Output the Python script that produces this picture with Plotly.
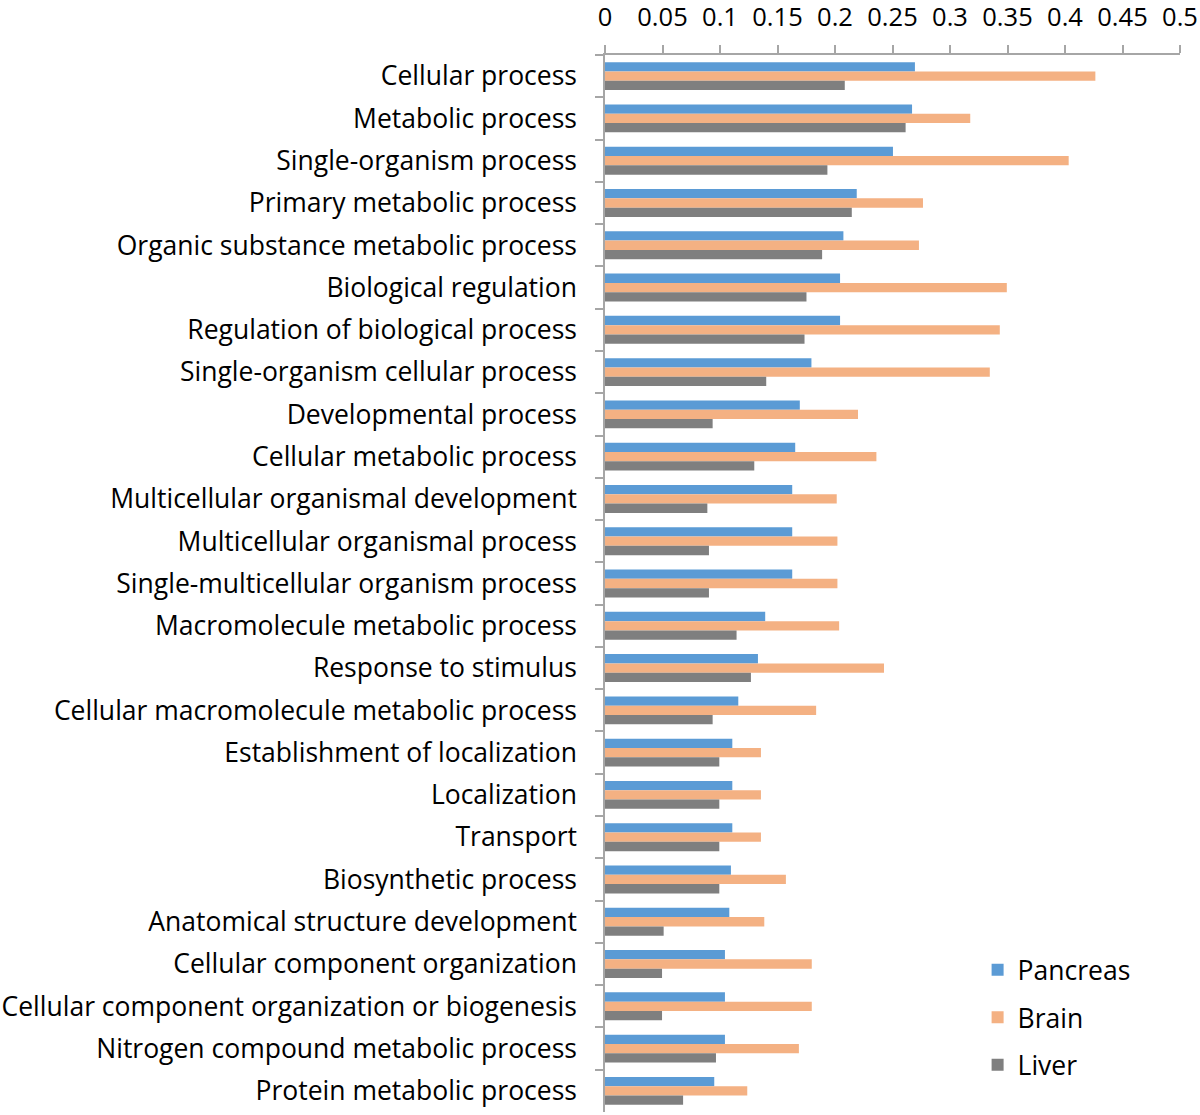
import plotly.graph_objects as go

categories = [
    "Cellular process",
    "Metabolic process",
    "Single-organism process",
    "Primary metabolic process",
    "Organic substance metabolic process",
    "Biological regulation",
    "Regulation of biological process",
    "Single-organism cellular process",
    "Developmental process",
    "Cellular metabolic process",
    "Multicellular organismal development",
    "Multicellular organismal process",
    "Single-multicellular organism process",
    "Macromolecule metabolic process",
    "Response to stimulus",
    "Cellular macromolecule metabolic process",
    "Establishment of localization",
    "Localization",
    "Transport",
    "Biosynthetic process",
    "Anatomical structure development",
    "Cellular component organization",
    "Cellular component organization or biogenesis",
    "Nitrogen compound metabolic process",
    "Protein metabolic process",
]

pancreas = [0.2695, 0.267, 0.2504, 0.2189, 0.2073, 0.2044, 0.2044, 0.1795, 0.1694,
            0.1654, 0.1628, 0.1628, 0.1628, 0.1393, 0.133, 0.1159, 0.1107, 0.1107,
            0.1107, 0.1095, 0.1081, 0.1043, 0.1043, 0.1043, 0.095]
brain = [0.4264, 0.3176, 0.4032, 0.2765, 0.273, 0.3494, 0.3433, 0.3346, 0.22,
         0.236, 0.2015, 0.2021, 0.2021, 0.2036, 0.2426, 0.1836, 0.1356, 0.1356,
         0.1356, 0.1573, 0.1385, 0.1798, 0.1798, 0.1686, 0.1237]
liver = [0.2085, 0.2614, 0.1934, 0.2146, 0.1888, 0.1752, 0.1735, 0.1402, 0.0936,
         0.1298, 0.089, 0.0904, 0.0904, 0.1144, 0.1269, 0.0936, 0.0994, 0.0994,
         0.0994, 0.0994, 0.051, 0.0496, 0.0496, 0.0965, 0.0679]

x_ticks = [0, 0.05, 0.1, 0.15, 0.2, 0.25, 0.3, 0.35, 0.4, 0.45, 0.5]
x_tick_labels = ["0", "0.05", "0.1", "0.15", "0.2", "0.25", "0.3", "0.35", "0.4", "0.45", "0.5"]

series = [("Pancreas", pancreas, "#5B9BD5"),
          ("Brain", brain, "#F4B183"),
          ("Liver", liver, "#7F7F7F")]

FONT = "Open Sans"
FS = 26.5

fig = go.Figure()
for name, vals, color in series:
    fig.add_trace(go.Bar(
        name=name, y=categories, x=vals, orientation="h",
        marker=dict(color=color, line=dict(width=0)),
        legendgroup=name,
    ))

fig.update_layout(
    width=1200, height=1115,
    margin=dict(l=605, r=19.5, t=55, b=3, autoexpand=False),
    paper_bgcolor="white", plot_bgcolor="white",
    barmode="group", bargap=0.34, bargroupgap=0,
    font=dict(family=FONT, size=FS, color="black"),
    legend=dict(x=0.648, y=0.157, xanchor="left", yanchor="top",
                font=dict(family=FONT, size=FS, color="black"),
                traceorder="grouped", tracegroupgap=10,
                bgcolor="rgba(0,0,0,0)"),
    showlegend=True,
)

fig.update_xaxes(
    side="top", range=[0, 0.5], tickvals=x_ticks, ticktext=x_tick_labels,
    automargin=False,
    showgrid=False, zeroline=False, showline=True, linecolor="#A6A6A6", linewidth=1.5,
    ticks="outside", ticklen=8, tickcolor="#A6A6A6", tickwidth=1.5,
    ticklabelstandoff=9,
    tickfont=dict(family=FONT, size=25.5, color="black"),
)
fig.update_yaxes(
    autorange="reversed", type="category", automargin=False,
    showgrid=False, zeroline=False, showline=True, linecolor="#A6A6A6", linewidth=1.5,
    ticks="outside", ticklen=8, tickcolor="#A6A6A6", tickwidth=1.5, tickson="boundaries",
    ticklabelstandoff=21,
    tickfont=dict(family=FONT, size=FS, color="black"),
)

fig.write_html(
    "out.html",
    config={"displayModeBar": False},
    post_script="document.body.style.margin='0';document.body.style.overflow='hidden';",
)
